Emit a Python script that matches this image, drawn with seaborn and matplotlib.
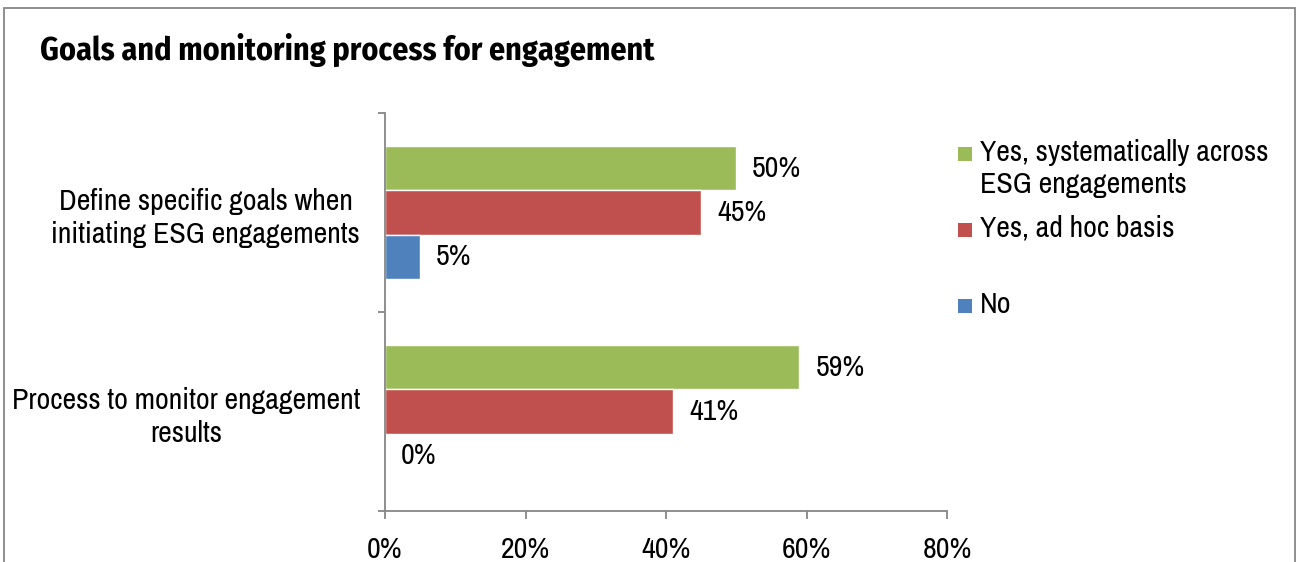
import matplotlib
matplotlib.use("Agg")
import matplotlib.pyplot as plt
from matplotlib.patches import Rectangle
from matplotlib.textpath import TextPath
from matplotlib.font_manager import FontProperties
import pandas as pd
import seaborn as sns

# Survey results (percent of respondents)
categories = [
    "Define specific goals when\ninitiating ESG engagements",
    "Process to monitor engagement\nresults",
]
series = [
    "Yes, systematically across\nESG engagements",
    "Yes, ad hoc basis",
    "No",
]
systematic = [50, 59]
ad_hoc = [45, 41]
no = [5, 0]
x_ticks = [0, 20, 40, 60, 80]
x_tick_labels = ["0%", "20%", "40%", "60%", "80%"]
title = "Goals and monitoring process for engagement"
colors = ["#9BBB59", "#C0504D", "#4F81BD"]

DPI = 100
BODY_FONT = "Archivo Narrow"
TITLE_FONT = "Fira Sans Condensed"

sns.set_theme(style="white")
plt.rcParams["font.family"] = [BODY_FONT, "DejaVu Sans"]
plt.rcParams["text.color"] = "black"
plt.rcParams["xtick.color"] = "black"
plt.rcParams["ytick.color"] = "black"


def text_px(s, family, weight="normal", size=20):
    """Extent (width, ymin, ymax) of a string in pixels at the given point size."""
    ext = TextPath((0, 0), s, prop=FontProperties(family=family, weight=weight, size=size)).get_extents()
    k = DPI / 72
    return ext.width * k, ext.y0 * k, ext.y1 * k


def size_for_width(s, family, target_px, weight="normal"):
    w, _, _ = text_px(s, family, weight)
    return 20 * target_px / w


def linespacing_for(pitch_px, family, size):
    _, _, asc = text_px("l", family, size=size)
    _, desc, _ = text_px("p", family, size=size)
    return (pitch_px + desc) / asc


FS = size_for_width("Process to monitor engagement", BODY_FONT, 346)
FS_TITLE = size_for_width(title, TITLE_FONT, 615, weight="bold")
LEG_PITCH = 32
LS_TICK = linespacing_for(33, BODY_FONT, FS)
LS_LEG = linespacing_for(LEG_PITCH, BODY_FONT, FS)

df = pd.DataFrame({
    "category": categories * 3,
    "series": [series[0]] * 2 + [series[1]] * 2 + [series[2]] * 2,
    "value": systematic + ad_hoc + no,
})

fig = plt.figure(figsize=(12.99, 5.62), dpi=DPI)
ax = fig.add_axes([385 / 1299, 1 - 511 / 562, (947 - 385) / 1299, (511 - 113) / 562])

sns.barplot(
    data=df, x="value", y="category", hue="series", hue_order=series,
    order=categories, palette=colors, orient="h", width=0.665,
    saturation=1, legend=False, ax=ax, errorbar=None,
)

for cont in ax.containers:
    ax.bar_label(cont, fmt="%d%%", padding=11.5, fontsize=FS, color="black")

grey = "#868686"
ax.set_xlim(0, 80)
ax.set_xticks(x_ticks)
ax.set_xticklabels(x_tick_labels, fontsize=FS)
ax.set_ylim(1.5, -0.5)
ax.set_yticks([-0.5, 0.5, 1.5])
ax.set_yticklabels([])
ax.set_yticks([0, 1], minor=True)
ax.set_yticklabels(categories, minor=True, fontsize=FS, ha="right",
                   multialignment="center", linespacing=LS_TICK)
ax.tick_params(axis="y", which="major", length=5, width=1.3, color=grey, direction="out", left=True)
ax.tick_params(axis="y", which="minor", length=0, pad=18)
ax.tick_params(axis="x", which="major", length=6, width=1.3, color=grey, direction="out",
               bottom=True, pad=12)
ax.set_xlabel("")
ax.set_ylabel("")
for side in ("top", "right"):
    ax.spines[side].set_visible(False)
for side in ("left", "bottom"):
    ax.spines[side].set_color(grey)
    ax.spines[side].set_linewidth(1.3)

# Title
fig.text(40 / 1299, 1 - 60 / 562, title, fontsize=FS_TITLE, fontweight="bold",
         family=[TITLE_FONT, "DejaVu Sans"], ha="left", va="baseline")

# Legend: square swatch sitting on the baseline of the first label line;
# multi-line labels are anchored on the baseline of their last line
legend_rows = [(series[0], 161), (series[1], 237), (series[2], 313)]
for (label, base_y), col in zip(legend_rows, colors):
    fig.patches.append(Rectangle((958 / 1299, 1 - base_y / 562), 14 / 1299, 14 / 562,
                                 transform=fig.transFigure, facecolor=col, edgecolor="none"))
    last_base = base_y + (label.count("\n")) * LEG_PITCH
    fig.text(980 / 1299, 1 - last_base / 562, label, fontsize=FS, ha="left", va="baseline",
             linespacing=LS_LEG)

# Chart frame
fig.patches.append(Rectangle((4 / 1299, -0.05), (1295 - 4) / 1299, 1.05 - 8 / 562,
                             transform=fig.transFigure, facecolor="none",
                             edgecolor=grey, linewidth=1.3))

fig.savefig("out.png", dpi=DPI)
